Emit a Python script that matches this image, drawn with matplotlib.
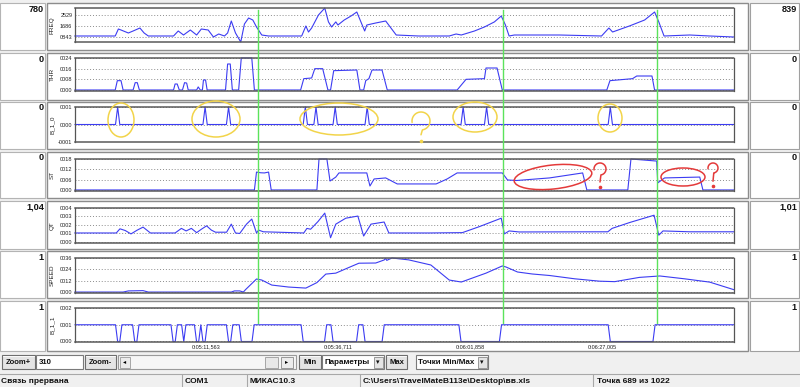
import numpy as np
import matplotlib
matplotlib.use("Agg")
import matplotlib.pyplot as plt
from matplotlib.patches import Rectangle, Ellipse

plt.rcParams['font.family'] = ['Liberation Sans', 'DejaVu Sans']

W, H = 800, 387

# --- time axis (seconds) ---
t_min, t_max = 286.54, 412.02
tick_times = [311.563, 336.711, 361.858, 387.005]
tick_names = ['0:05:11,563', '0:05:36,711', '0:06:01,858', '0:06:27,005']
cursor_times = [321.3, 368.1, 397.3]
n_points = 310

# --- FREQ ---
freq_t = [286.5, 294.2, 294.8, 295.3, 296.7, 297.6, 298.9, 299.7, 300.5, 305.3,
          306.2, 307.2, 308.5, 309.7, 310.6, 311.9, 312.9, 313.9, 315.0, 315.6,
          316.3, 317.1, 318.1, 318.8, 319.6, 320.4, 321.1, 322.1, 323.4, 329.7,
          330.5, 331.0, 331.6, 332.9, 334.1, 334.8, 335.4, 336.2, 336.6, 337.8,
          339.1, 340.2, 341.7, 342.1, 343.8, 345.7, 346.7, 347.7, 352.0, 357.8,
          359.1, 360.1, 362.6, 364.5, 366.4, 367.7, 368.5, 369.2, 370.2, 378.8,
          386.8, 388.2, 388.9, 392.1, 395.0, 396.9, 397.7, 398.7, 403.6, 407.4, 412.0]
freq_v = [920, 920, 1456, 1379, 1150, 1303, 1532, 1150, 920, 920,
          1303, 996, 1379, 996, 1456, 1379, 843, 1073, 920, 1150,
          2069, 1150, 460, 1839, 2298, 2145, 1609, 996, 920, 920,
          1686, 1226, 1532, 2529, 3060, 2000, 1609, 2000, 1762, 2145,
          2452, 2758, 1303, 1762, 1916, 2069, 1532, 996, 920, 920,
          1073, 996, 1303, 1609, 2000, 2452, 1762, 920, 996, 996,
          920, 1532, 1226, 1686, 2145, 2758, 2000, 920, 996, 920, 843]

# --- THR ---
thr_t = [286.5, 294.2, 294.6, 295.3, 295.7, 297.6, 298.0, 298.4, 298.8, 305.3,
         305.6, 306.0, 306.4, 307.0, 307.4, 307.8, 308.1, 309.7, 310.0, 310.4,
         310.8, 311.0, 311.4, 311.7, 315.2, 315.6, 316.1, 316.5, 317.7, 318.2,
         320.2, 320.7, 329.5, 330.1, 331.6, 332.2, 333.7, 334.7, 335.2, 335.8,
         340.2, 340.8, 341.5, 341.9, 342.5, 343.1, 345.0, 346.0, 359.3, 361.0,
         364.5, 364.8, 366.9, 367.9, 387.8, 388.4, 392.7, 393.5, 396.4, 396.9, 412.0]
thr_v = [0, 0, 7, 7, 0, 0, 5.5, 5.5, 0, 0,
         4.5, 4.5, 0, 0, 5.5, 5.2, 0, 0, 2.3, 0,
         0, 7.5, 7.5, 0, 0, 19.5, 19.5, 0, 0, 24,
         24, 0, 0, 8.5, 9, 16, 16, 0, 0, 14.5,
         15, 0, 0, 7, 8.5, 15, 15, 0, 0, 8,
         8.5, 16.5, 16.5, 0, 0, 7, 8.5, 10.5, 10.5, 0, 0]

# --- B_1_0: samples equal to 1 ---
b10_spikes = [294.8, 311.4, 315.8, 330.5, 332.4, 336.0, 342.1, 360.5, 364.8, 388.4]

# --- ST ---
st_t = [286.5, 320.7, 321.1, 321.9, 322.6, 323.4, 323.9, 332.6, 333.0, 334.5,
        335.1, 336.2, 336.8, 342.1, 342.7, 343.5, 345.7, 347.9, 355.3, 357.4,
        359.3, 367.9, 368.9, 370.6, 376.9, 383.2, 384.0, 391.8, 392.4, 397.3,
        397.5, 398.8, 405.5, 406.1, 412.0]
st_v = [0, 0, 10.4, 10.0, 9.9, 10.4, 0, 0, 18, 18,
        5.2, 7.5, 9.9, 9.9, 2.3, 6.4, 7.0, 3.5, 3.5, 6.4,
        9.9, 9.9, 5.8, 5.5, 7.0, 9.9, 0, 0, 18, 16.8,
        4.1, 7.0, 7.5, 0, 0]

# --- QT ---
qt_t = [286.5, 294.4, 295.1, 296.1, 297.2, 298.4, 299.5, 300.9, 305.6, 306.8,
        307.7, 308.7, 309.7, 310.6, 311.6, 312.5, 313.3, 315.4, 316.3, 317.1,
        317.9, 319.2, 320.2, 320.7, 321.1, 321.5, 322.4, 330.1, 330.7, 331.4,
        332.8, 334.1, 335.2, 336.2, 338.1, 340.4, 341.5, 342.9, 345.4, 346.3,
        354.0, 360.3, 363.5, 367.7, 368.3, 369.2, 371.1, 388.0, 388.8, 392.2,
        396.8, 397.7, 398.5, 403.6, 412.0]
qt_v = [1.06, 1.06, 1.55, 1.35, 0.95, 1.4, 1.75, 1.06, 1.06, 1.6,
        1.3, 1.6, 1.1, 1.5, 1.9, 1.4, 1.15, 1.15, 2.1, 1.06,
        1.0, 2.1, 2.7, 1.8, 1.06, 1.4, 1.2, 1.06, 1.6, 1.5,
        2.4, 3.4, 0.5, 2.1, 2.8, 3.05, 0.7, 2.1, 2.35, 1.06,
        1.06, 1.1, 1.8, 2.8, 0.95, 1.3, 1.18, 1.2, 1.6, 2.3,
        3.15, 0.8, 1.3, 1.2, 1.2]

# --- SPEED ---
speed_t = [286.5, 295.7, 296.7, 299.5, 300.5, 316.3, 316.9, 317.9, 318.6, 319.0,
           321.1, 322.1, 324.0, 327.2, 330.5, 332.6, 334.3, 336.2, 338.7, 340.6,
           343.8, 345.4, 345.7, 345.9, 346.9, 350.1, 354.3, 357.8, 360.1, 364.8,
           367.9, 368.6, 370.8, 373.6, 376.9, 381.7, 386.4, 389.3, 394.0, 397.9,
           402.6, 407.4, 412.0]
speed_v = [0, 0, 1.2, 1.5, 0, 0, 1.2, 1.2, 0, 2.5,
           13.8, 12.7, 7.4, 5.3, 4.2, 10, 19, 20, 26, 30.5,
           30.7, 33.9, 35.5, 33.5, 36, 34, 28.6, 12.7, 10.6, 20,
           27.6, 26.5, 21.2, 19.1, 17.5, 14, 11.5, 11, 15.5, 17,
           14, 10.5, 2.5]

# --- B_1_1: intervals where the signal is 0 ---
b11_gaps = [(294.5, 295.3), (297.6, 298.4), (305.1, 305.9), (307.0, 307.6),
            (309.6, 310.4), (310.9, 311.6), (315.6, 316.3), (318.1, 320.6),
            (329.7, 334.3), (335.4, 340.4), (341.7, 345.4), (359.9, 367.5),
            (388.1, 396.7)]

grid = np.linspace(t_min, t_max, n_points)
dt = grid[1] - grid[0]
b10_v = np.zeros(n_points)
b10_v[np.round((np.array(b10_spikes) - t_min) / dt).astype(int)] = 1
b11_v = np.ones(n_points)
for a, b in b11_gaps:
    b11_v[(grid >= a) & (grid <= b)] = 0

names = ['FREQ', 'THR', 'B_1_0', 'ST', 'QT', 'SPEED', 'B_1_1']
left_vals = ['780', '0', '0', '0', '1,04', '1', '1']
right_vals = ['839', '0', '0', '0', '1,01', '1', '1']
yticks = [[843, 1686, 2529], [0, 8, 16, 24], [-1, 0, 1], [0, 6, 12, 18],
          [0, 1, 2, 3, 4], [0, 12, 24, 36], [0, 1, 2]]
ylabels = [['0843', '1686', '2529'], ['0000', '0008', '0016', '0024'],
           ['-0001', '0000', '0001'], ['0000', '0006', '0012', '0018'],
           ['0000', '0001', '0002', '0003', '0004'], ['0000', '0012', '0024', '0036'],
           ['0000', '0001', '0002']]
ylims = [(460, 3065), (-0.75, 24), (-1, 1), (-0.6, 18), (-0.12, 4), (-1, 36), (-0.03, 2)]
series = [(freq_t, freq_v), (thr_t, thr_v), (grid, b10_v), (st_t, st_v),
          (qt_t, qt_v), (speed_t, speed_v), (grid, b11_v)]

# layout in pixels: outer frame rows and inner plot boxes
frames = [(3, 50), (53, 100), (102, 149), (152, 198), (201, 249), (251, 298), (301, 351)]
boxes = [(8, 42), (58, 91), (107, 142), (159, 191), (208, 243), (258, 293), (308, 342)]
bx0, bx1 = 75, 734

fig = plt.figure(figsize=(W / 100, H / 100), dpi=100, facecolor='#f0f0f0')


def px_axes(x0, y0, x1, y1, **kw):
    return fig.add_axes([x0 / W, 1 - y1 / H, (x1 - x0) / W, (y1 - y0) / H], **kw)


bg = px_axes(0, 0, W, H, zorder=0)
bg.set_xlim(0, W)
bg.set_ylim(H, 0)
bg.axis('off')

blue = '#3c3cf2'
axes = []
for i in range(7):
    ft, fb = frames[i]
    bg.add_patch(Rectangle((0, ft), 45, fb - ft, fc='white', ec='#b4b4b4', lw=0.8))
    bg.add_patch(Rectangle((47, ft), 701, fb - ft, fc='white', ec='#8c8c8c', lw=1.0))
    bg.add_patch(Rectangle((750, ft), 49, fb - ft, fc='white', ec='#a0a0a0', lw=0.8))
    bg.text(44, ft + 1.5, left_vals[i], ha='right', va='top', fontsize=6.6,
            fontweight='bold', color='#111111')
    bg.text(797, ft + 1.5, right_vals[i], ha='right', va='top', fontsize=6.6,
            fontweight='bold', color='#111111')

    yt, yb = boxes[i]
    ax = px_axes(bx0, yt, bx1, yb, zorder=2)
    t, v = series[i]
    ax.plot(t, v, color=blue, lw=0.8, clip_on=False)
    ax.set_xlim(t_min, t_max)
    ax.set_ylim(*ylims[i])
    ax.set_yticks(yticks[i])
    ax.set_yticklabels(ylabels[i], fontsize=4, color='#222222')
    ax.tick_params(axis='y', length=0, pad=2)
    ax.grid(axis='y', linestyle=(0, (1, 2)), color='#8c8c8c', lw=0.7)
    for s in ['left', 'right']:
        ax.spines[s].set_color('#555555')
        ax.spines[s].set_linewidth(0.9)
    for s in ['top', 'bottom']:
        ax.spines[s].set_color('#5a5a5a')
        ax.spines[s].set_linewidth(1.1)
        ax.spines[s].set_linestyle((0, (1, 1)))
    if i < 6:
        ax.set_xticks([])
    else:
        ax.set_xticks(tick_times)
        ax.set_xticklabels(tick_names, fontsize=4, color='#222222')
        ax.tick_params(axis='x', length=0, pad=1.5)
    bg.text(52, (yt + yb) / 2, names[i], rotation=90, ha='center', va='center',
            fontsize=4.6, color='#222222')
    axes.append(ax)

# --- toolbar ---
def button(x0, x1, label, y0=355, y1=369):
    bg.add_patch(Rectangle((x0, y0), x1 - x0, y1 - y0, fc='#e4e4e4', ec='#6e6e6e', lw=0.8))
    bg.plot([x0 + 1, x1 - 1], [y0 + 1, y0 + 1], color='white', lw=0.6)
    bg.text((x0 + x1) / 2, (y0 + y1) / 2 + 0.5, label, ha='center', va='center',
            fontsize=5.5, fontweight='bold', color='#111111')


def combo(x0, x1, label, y0=355, y1=369):
    bg.add_patch(Rectangle((x0, y0), x1 - x0, y1 - y0, fc='white', ec='#7a7a7a', lw=0.8))
    bg.add_patch(Rectangle((x1 - 10, y0 + 1.5), 8.5, y1 - y0 - 3, fc='#e4e4e4',
                           ec='#8a8a8a', lw=0.6))
    bg.text(x1 - 5.8, (y0 + y1) / 2, '\u25be', ha='center', va='center', fontsize=5,
            color='#111111', family='DejaVu Sans')
    bg.text(x0 + 2.5, (y0 + y1) / 2 + 0.5, label, ha='left', va='center',
            fontsize=5.8, fontweight='bold', color='#111111')


button(2, 35, 'Zoom+')
bg.add_patch(Rectangle((36, 355), 47, 14, fc='white', ec='#7a7a7a', lw=0.8))
bg.text(38.5, 362.5, '310', ha='left', va='center', fontsize=5.6, fontweight='bold',
        color='#111111')
button(85, 116, 'Zoom-')
bg.add_patch(Rectangle((118, 355), 178, 14, fc='#f6f6f6', ec='#9a9a9a', lw=0.8))
bg.add_patch(Rectangle((119.5, 356.5), 10, 11, fc='#ececec', ec='#9a9a9a', lw=0.6))
bg.text(124.5, 362, '\u25c2', ha='center', va='center', fontsize=4.5, family='DejaVu Sans')
bg.add_patch(Rectangle((265, 356.5), 13, 11, fc='#e8e8e8', ec='#9a9a9a', lw=0.6))
bg.add_patch(Rectangle((281, 356.5), 12, 11, fc='#ececec', ec='#8a8a8a', lw=0.6))
bg.text(287, 362, '\u25b8', ha='center', va='center', fontsize=4.5, family='DejaVu Sans')
button(299, 321, 'Min')
combo(322, 384, 'Параметры')
button(386, 407, 'Max')
combo(416, 488, 'Точки Min/Max')

# --- status bar ---
bg.plot([0, W], [373.5, 373.5], color='#a8a8a8', lw=0.8)
for xs in [182, 247, 360, 593]:
    bg.plot([xs, xs], [375, 387], color='#a8a8a8', lw=0.8)
status = [(1, 'Связь прервана'), (185, 'COM1'), (250, 'МИКАС10.3'),
          (363, 'C:\\Users\\TravelMateB113e\\Desktop\\вв.xls'), (597, 'Точка 689 из 1022')]
for xs, s in status:
    bg.text(xs, 381.5, s, ha='left', va='center', fontsize=6.0, fontweight='bold',
            color='#111111')

# --- overlay: cursors and hand-drawn marks ---
ov = px_axes(0, 0, W, H, zorder=5)
ov.set_xlim(0, W)
ov.set_ylim(H, 0)
ov.axis('off')
ov.patch.set_visible(False)

fig.canvas.draw()
for tc in cursor_times:
    xp = axes[0].transData.transform((tc, 1000))[0]
    ov.plot([xp, xp], [10, 323], color='#5be35b', lw=1.0)

yellow = '#f2d44a'
red = '#e43a3a'
for cx, cy, w, h, ang in [(121, 120, 26, 34, 0), (216, 119, 48, 36, 0),
                          (339, 119, 78, 32, 0), (475, 117, 44, 30, 0),
                          (610, 118, 24, 28, 0)]:
    ov.add_patch(Ellipse((cx, cy), w, h, angle=ang, fill=False, ec=yellow, lw=1.1))
for cx, cy, w, h, ang in [(553, 177, 78, 24, -6), (683, 177, 44, 18, 0)]:
    ov.add_patch(Ellipse((cx, cy), w, h, angle=ang, fill=False, ec=red, lw=1.1))


def qmark(x0, y0, w, h, color):
    r = w / 2
    cx, cy = x0 + r, y0 + r
    th = np.linspace(np.pi * 1.05, -np.pi * 0.45, 30)
    xs = list(cx + r * np.cos(th)) + [cx]
    ys = list(cy - r * np.sin(th)) + [y0 + h * 0.76]
    ov.plot(xs, ys, color=color, lw=1.1, solid_capstyle='round')
    ov.plot([cx], [y0 + h * 0.95], marker='o', ms=1.6, color=color, mec=color)


qmark(412, 112, 18, 30, yellow)
qmark(594, 163, 12, 25, red)
qmark(708, 163, 10, 24, red)

fig.savefig('out.png', dpi=100, facecolor=fig.get_facecolor())
